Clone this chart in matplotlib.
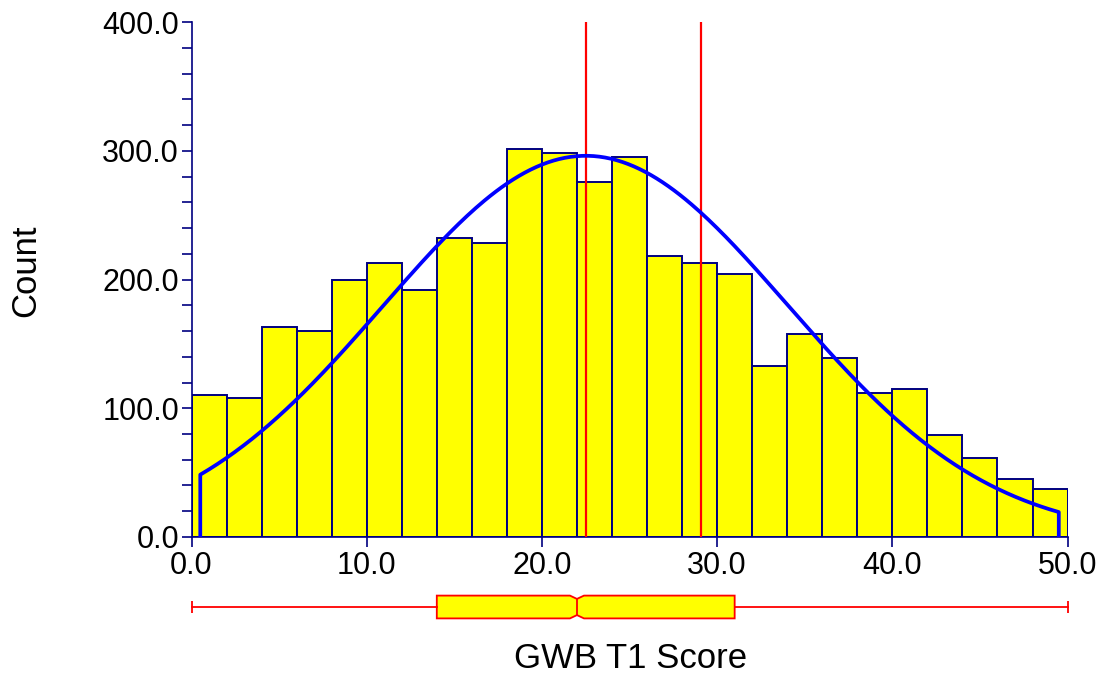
import numpy as np
import matplotlib
matplotlib.use('Agg')
import matplotlib.pyplot as plt
from matplotlib.patches import Polygon
from matplotlib.ticker import MultipleLocator, FormatStrFormatter

plt.rcParams['font.family'] = ['Liberation Sans', 'DejaVu Sans']

# Histogram data (bins of width 2 from 0 to 50)
bin_width = 2
bin_edges = list(range(0, 51, bin_width))
counts = [110, 108, 163, 160, 200, 213, 192, 232, 228, 301, 298, 276,
          295, 218, 213, 204, 133, 158, 139, 112, 115, 79, 61, 45, 37]

# Fitted normal curve parameters
fit_mean = 22.5
fit_sd = 11.56
fit_min = 0.5
fit_max = 49.5

# Reference lines
ref_lines = [22.5, 29.1]

# Box plot summary
box_stats = dict(whislo=0.0, q1=14.0, med=22.0, cilo=21.6, cihi=22.4,
                 q3=31.0, whishi=50.0)

navy = '#000080'

fig = plt.figure(figsize=(11, 6.8), dpi=100)
ax = fig.add_axes([0.1741, 0.2103, 0.7964, 0.7573])

ax.hist(bin_edges[:-1], bins=bin_edges, weights=counts,
        facecolor='#FFFF00', edgecolor=navy, linewidth=1.4, zorder=2)

# normal curve scaled to the histogram
n_total = sum(counts)
xs = np.linspace(fit_min, fit_max, 300)
ys = n_total * bin_width / (fit_sd * np.sqrt(2 * np.pi)) * np.exp(-0.5 * ((xs - fit_mean) / fit_sd) ** 2)
xs = np.concatenate([[fit_min], xs, [fit_max]])
ys = np.concatenate([[0], ys, [0]])
ax.plot(xs, ys, color='#0000FF', linewidth=2.7, zorder=4)

for v in ref_lines:
    ax.axvline(v, color='#FF0000', linewidth=1.6, zorder=3)

ax.set_xlim(0, 50)
ax.set_ylim(0, 400)
ax.spines['top'].set_visible(False)
ax.spines['right'].set_visible(False)
for s in ('left', 'bottom'):
    ax.spines[s].set_color(navy)
    ax.spines[s].set_linewidth(1.2)
ax.xaxis.set_major_locator(MultipleLocator(10))
ax.yaxis.set_major_locator(MultipleLocator(100))
ax.yaxis.set_minor_locator(MultipleLocator(20))
ax.xaxis.set_major_formatter(FormatStrFormatter('%.1f'))
ax.yaxis.set_major_formatter(FormatStrFormatter('%.1f'))
ax.tick_params(axis='both', which='both', direction='out', length=7,
               width=1.2, color=navy, labelsize=22, labelcolor='black')
ax.tick_params(axis='y', pad=2)
ax.tick_params(axis='x', pad=3)

# Box plot below the histogram
bax = fig.add_axes([0.1741, 0.0794, 0.7964, 0.0559], sharex=ax)
bax.set_ylim(0, 1)
bax.axis('off')
c, h, d, cap = 0.5, 0.30, 0.087, 0.17
lo, hi = c - h, c + h
st = box_stats
bax.plot([st['whislo'], st['q1']], [c, c], color='#FF0000', lw=1.3, clip_on=False)
bax.plot([st['q3'], st['whishi']], [c, c], color='#FF0000', lw=1.3, clip_on=False)
bax.vlines([st['whislo'], st['whishi']], c - cap, c + cap, color='#FF0000', lw=1.3, clip_on=False)
verts = [(st['q1'], lo), (st['cilo'], lo), (st['med'], lo + d), (st['cihi'], lo),
         (st['q3'], lo), (st['q3'], hi), (st['cihi'], hi), (st['med'], hi - d),
         (st['cilo'], hi), (st['q1'], hi)]
bax.add_patch(Polygon(verts, closed=True, facecolor='#FFFF00', edgecolor='#FF0000', lw=1.3))
bax.plot([st['med'], st['med']], [lo + d, hi - d], color='#FF0000', lw=1.3)

fig.text(631 / 1100, 1 - 658 / 680, 'GWB T1 Score', ha='center', va='center', fontsize=25)
fig.text(26 / 1100, 1 - 271 / 680, 'Count', ha='center', va='center', rotation=90, fontsize=25)

fig.savefig('out.png', dpi=100)
